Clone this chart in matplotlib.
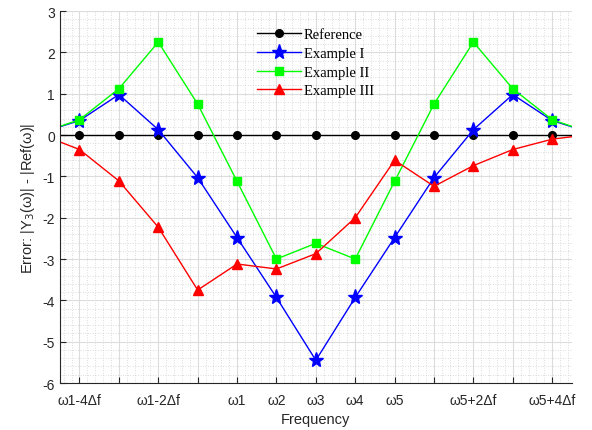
import numpy as np
import matplotlib
matplotlib.use("Agg")
import matplotlib.pyplot as plt
from matplotlib.ticker import MultipleLocator, AutoMinorLocator

# frequency index, 0 = omega1 ; -5 and 9 sit just outside the view
freq = np.arange(-5, 10)
tick_pos = list(range(-4, 9))
tick_lab = ["ω1-4Δf", "", "ω1-2Δf", "", "ω1", "ω2", "ω3", "ω4", "ω5", "", "ω5+2Δf", "", "ω5+4Δf"]

reference = [0, 0, 0, 0, 0, 0, 0, 0, 0, 0, 0, 0, 0, 0, 0]
example1 = [0.05, 0.35, 0.98, 0.13, -1.03, -2.48, -3.93, -5.45, -3.93, -2.48, -1.03, 0.13, 0.98, 0.35, 0.05]
example2 = [0.05, 0.37, 1.12, 2.25, 0.75, -1.12, -3.0, -2.62, -3.0, -1.12, 0.75, 2.25, 1.12, 0.37, 0.05]
example3 = [0.02, -0.35, -1.11, -2.23, -3.75, -3.12, -3.24, -2.87, -2.0, -0.61, -1.24, -0.74, -0.35, -0.1, 0.02]

plt.rcParams['font.family'] = ['Liberation Sans', 'DejaVu Sans']
plt.rcParams['axes.unicode_minus'] = False

fig = plt.figure(figsize=(5.92, 4.31), dpi=100)
ax = fig.add_axes([0.101, 0.109, 0.865, 0.863])

ax.plot(freq, reference, color="k", lw=1, marker="o", ms=5.5, label="Reference")
ax.plot(freq, example1, color=(0, 0, 1), lw=1, marker="*", ms=11, label="Example I")
ax.plot(freq, example2, color=(0, 1, 0), lw=1, marker="s", ms=6, label="Example II")
ax.plot(freq, example3, color=(1, 0, 0), lw=1, marker="^", ms=7, label="Example III")

ax.set_xlim(-4.5, 8.5)
ax.set_ylim(-6, 3)
ax.set_xticks(tick_pos)
ax.set_xticklabels(tick_lab)
ax.yaxis.set_major_locator(MultipleLocator(1))
ax.xaxis.set_minor_locator(AutoMinorLocator(5))
ax.yaxis.set_minor_locator(AutoMinorLocator(5))

ax.grid(True, which="major", color="#dcdcdc", lw=0.8)
ax.grid(True, which="minor", color="#d0d0d0", lw=0.6, linestyle=(0, (1, 2)))
ax.set_axisbelow(True)

for s in ["top", "right"]:
    ax.spines[s].set_visible(False)
for s in ["left", "bottom"]:
    ax.spines[s].set_color("#262626")
    ax.spines[s].set_linewidth(0.8)
ax.tick_params(which="major", direction="in", length=4, labelsize=10, colors="#262626")
ax.tick_params(which="minor", length=0)
ax.tick_params(axis="x", pad=7)

ax.set_xlabel("Frequency", fontsize=10.5, color="#262626")
ax.set_ylabel("Error: |Y$_3$(ω)| - |Ref(ω)|", fontsize=10.5, color="#262626")

leg = ax.legend(loc="upper center", bbox_to_anchor=(0.5, 0.99), frameon=False,
                prop={"family": "Liberation Serif", "size": 10.5},
                handlelength=3, handletextpad=0.2, labelspacing=0.38)

fig.savefig("out.png", dpi=100)
